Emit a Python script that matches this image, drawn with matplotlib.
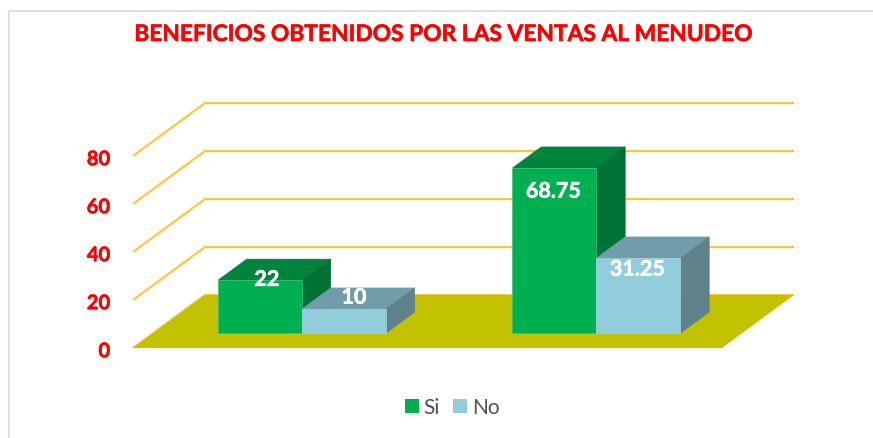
import matplotlib
matplotlib.use('Agg')
import matplotlib.pyplot as plt
import matplotlib.patheffects as pe
from matplotlib.lines import Line2D
from matplotlib.patches import Patch, Polygon
from matplotlib.transforms import ScaledTranslation

# 数据
categories = ['Grupo 1', 'Grupo 2']
si_values = [22, 68.75]
no_values = [10, 31.25]
si_labels = ['22', '68.75']
no_labels = ['10', '31.25']
y_ticks = [0, 20, 40, 60, 80]
title = 'BENEFICIOS OBTENIDOS POR LAS VENTAS AL MENUDEO'

plt.rcParams['font.family'] = ['Lato', 'DejaVu Sans']

W, H = 873, 438
fig = plt.figure(figsize=(W / 100, H / 100), dpi=100)
# the axes box is the front edge of the floor
ax = fig.add_axes([133 / W, (H - 348) / H, 589 / W, 192 / H])
ax.set_xlim(0, len(categories))
ax.set_ylim(0, 80)
ax.patch.set_visible(False)
for s in ax.spines.values():
    s.set_visible(False)

# depth of the fake 3d box in axis units
DX = 72 / 294.5
DY = 53 / 2.4
BAR_W = 84 / 294.5
D0, D1 = 0.28, 0.68
SHIFT = 0.005

# label nudges in pixels, the original places them by hand
si_nudge = [(7, 1), (-1, -23)]
no_nudge = [(10, 12), (-1, -11)]

# lato bold is a bit thin next to the original font
thicker = [pe.withStroke(linewidth=0.4, foreground='#FF0000')]
thicker_w = [pe.withStroke(linewidth=0.4, foreground='white')]


def proj(x, d, v):
    return (x + d * DX, v + d * DY)


def box(x, v, front, top, side, edge_c):
    x0, x1 = x, x + BAR_W
    edge = dict(clip_on=False, linewidth=0.5, zorder=3)
    ax.add_patch(Polygon([proj(x0, D1, v), proj(x1, D1, v), proj(x1, D0, v), proj(x0, D0, v)],
                         facecolor=top, edgecolor=top, **edge))
    ax.add_patch(Polygon([proj(x1, D0, 0), proj(x1, D1, 0), proj(x1, D1, v), proj(x1, D0, v)],
                         facecolor=side, edgecolor=side, **edge))
    ax.add_patch(Polygon([proj(x0, D0, 0), proj(x1, D0, 0), proj(x1, D0, v), proj(x0, D0, v)],
                         facecolor=front, edgecolor=edge_c, **edge))


def bar_label(x, v, text, nudge):
    ax.annotate(text, proj(x + BAR_W / 2, D0, v), xytext=nudge, textcoords='offset pixels',
                color='white', fontsize=15.5, fontweight='bold', ha='center', va='center',
                zorder=5, annotation_clip=False, path_effects=thicker_w)


# walls grid
grid_c = '#FFC62A'
n = len(categories)
for t in y_ticks:
    a, b, c = proj(0, 0, t), proj(0, 1, t), proj(n, 1, t)
    ax.plot([a[0], b[0], c[0]], [a[1], b[1], c[1]], color=grid_c, lw=1.5, clip_on=False, zorder=1,
            solid_joinstyle='miter', solid_capstyle='butt')

# floor
ax.add_patch(Polygon([proj(0, 0, 0), proj(n, 0, 0), proj(n, 1, 0), proj(0, 1, 0)],
                     facecolor='#C2C200', edgecolor='none', clip_on=False, zorder=2))

for i, cat in enumerate(categories):
    x_si = i + 0.5 - BAR_W + SHIFT
    x_no = i + 0.5 + SHIFT
    box(x_si, si_values[i], '#00B050', '#00843C', '#007235', '#3fbf80')
    box(x_no, no_values[i], '#92CDDC', '#719CA9', '#5F818B', '#a5d6e2')
    bar_label(x_si, si_values[i], si_labels[i], si_nudge[i])
    bar_label(x_no, no_values[i], no_labels[i], no_nudge[i])

ax.set_xticks([])
ax.set_yticks(y_ticks)
ax.set_yticklabels([str(t) for t in y_ticks], color='#FF0000', fontsize=14.5, fontweight='bold',
                   va='center_baseline')
ax.tick_params(axis='y', length=0, pad=16.5)
for lab in ax.get_yticklabels():
    lab.set_transform(lab.get_transform() + ScaledTranslation(0, -1.2 / 100, fig.dpi_scale_trans))
    lab.set_path_effects(thicker)

fig.text(444 / W, 1 - 34.5 / H, title, color='#FF0000', fontsize=16.4, fontweight='bold',
         ha='center', va='center', path_effects=thicker)

fig.legend(handles=[Patch(facecolor='#00B050', edgecolor='none', label='Si'),
                    Patch(facecolor='#92CDDC', edgecolor='none', label='No')],
           loc='center', bbox_to_anchor=(452 / W, 1 - 407.5 / H), ncol=2, frameon=False,
           fontsize=15, labelcolor='#505050', handlelength=0.67, handleheight=0.67,
           handletextpad=0.24, columnspacing=0.62)

# outer frame, only top and left show in the crop
fig.add_artist(Line2D([8.5 / W, 8.5 / W, 1], [0, 1 - 10.5 / H, 1 - 10.5 / H],
                      transform=fig.transFigure, color='#DEDEDE', lw=1.5,
                      solid_joinstyle='miter'))

fig.savefig('out.png', dpi=100)
